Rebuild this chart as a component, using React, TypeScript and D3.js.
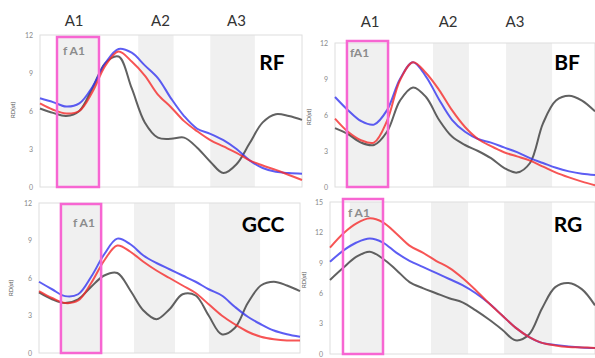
import React, { useEffect, useRef } from 'react'
import * as d3 from 'd3'

// position along the tract (0-100), shared by all panels
const positions = d3.range(0, 101, 5)

// RF
const rfBlack = [6.2, 5.85, 5.6, 6.0, 7.8, 9.8, 10.3, 7.8, 5.1, 3.9, 3.8, 3.9, 3.1, 2.0, 1.1, 1.8, 3.45, 5.1, 5.75, 5.6, 5.3]
const rfRed = [6.6, 6.1, 5.8, 6.0, 7.5, 9.6, 10.7, 9.9, 8.8, 7.3, 6.3, 5.2, 4.4, 3.7, 3.2, 2.7, 2.1, 1.7, 1.35, 0.95, 0.55]
const rfBlue = [7.0, 6.7, 6.35, 6.6, 7.9, 9.8, 10.9, 10.6, 9.6, 8.6, 7.0, 5.6, 4.6, 4.2, 3.7, 3.0, 2.1, 1.5, 1.2, 1.1, 1.05]

// BF
const bfBlack = [4.9, 4.4, 3.7, 3.5, 4.6, 7.2, 8.3, 7.5, 5.6, 4.2, 3.5, 3.0, 2.4, 1.6, 1.2, 2.0, 5.3, 7.2, 7.6, 7.2, 6.3]
const bfRed = [5.7, 4.6, 3.9, 3.7, 5.5, 8.9, 10.4, 9.5, 8.1, 6.4, 5.0, 4.0, 3.4, 2.9, 2.55, 2.2, 1.7, 1.2, 0.8, 0.45, 0.15]
const bfBlue = [7.5, 6.4, 5.5, 5.2, 6.4, 9.0, 10.4, 9.2, 7.3, 5.6, 4.6, 4.0, 3.7, 3.3, 2.9, 2.4, 2.0, 1.6, 1.3, 1.1, 1.0]

// GCC
const gccBlack = [4.85, 4.3, 4.0, 4.3, 5.3, 6.2, 6.4, 5.0, 3.4, 2.7, 3.5, 4.7, 4.6, 3.0, 1.5, 2.0, 4.0, 5.4, 5.7, 5.4, 4.95]
const gccRed = [4.95, 4.4, 4.0, 4.2, 5.6, 7.4, 8.6, 8.1, 7.3, 6.6, 6.0, 5.4, 4.8, 3.9, 3.0, 2.3, 1.7, 1.3, 1.1, 1.0, 1.0]
const gccBlue = [5.7, 5.1, 4.55, 4.7, 6.1, 7.9, 9.15, 8.7, 7.8, 7.2, 6.7, 6.2, 5.7, 5.1, 4.6, 3.7, 2.9, 2.3, 1.8, 1.5, 1.3]

// RG
const rgBlack = [7.3, 8.5, 9.6, 10.1, 9.4, 8.3, 7.1, 6.5, 6.0, 5.5, 5.1, 4.3, 3.4, 2.4, 1.35, 1.9, 4.5, 6.6, 7.0, 6.4, 4.8]
const rgRed = [10.5, 11.9, 12.9, 13.4, 13.0, 11.9, 10.7, 10.0, 9.2, 8.5, 7.5, 6.3, 5.0, 3.8, 2.6, 1.7, 1.1, 0.85, 0.7, 0.65, 0.6]
const rgBlue = [9.1, 10.2, 11.0, 11.4, 11.0, 10.0, 9.2, 8.6, 8.0, 7.4, 6.8, 6.0, 5.0, 3.8, 2.6, 1.7, 1.1, 0.9, 0.75, 0.65, 0.6]

const yTicksSmall = [0, 3, 6, 9, 12]
const yTicksLarge = [0, 3, 6, 9, 12, 15]
const segmentLabels = ['A1', 'A2', 'A3']

const panels = [
    { title: 'RF', yMax: 12, ticks: yTicksSmall, black: rfBlack, red: rfRed, blue: rfBlue, bands: [[7, 22], [37.5, 51], [65, 82]], box: [6.5, 22.5], boxLabel: 'f A1', labelAt: [13, 46, 75] },
    { title: 'BF', yMax: 12, ticks: yTicksSmall, black: bfBlack, red: bfRed, blue: bfBlue, bands: [[5, 20], [37.7, 51.5], [65.8, 83.5]], box: [4.6, 20.4], boxLabel: 'fA1', labelAt: [13.5, 43.5, 69.2] },
    { title: 'GCC', yMax: 12, ticks: yTicksSmall, black: gccBlack, red: gccRed, blue: gccBlue, bands: [[8.8, 23.4], [36.4, 52.1], [65.1, 84.7]], box: [8.4, 23.8], boxLabel: 'f A1', labelAt: null },
    { title: 'RG', yMax: 15, ticks: yTicksLarge, black: rgBlack, red: rgRed, blue: rgBlue, bands: [[7.5, 19.6], [38.1, 52.1], [65.7, 83.8]], box: [4.9, 20], boxLabel: 'f A1', labelAt: null },
]

// pixel layout of each panel
const layouts = [
    { left: 40, right: 302, top: 35, bottom: 187, boxTop: 37, titleX: 272, titleY: 70, fa1X: 63, fa1Y: 55, ylabX: 15, ylabY: 110, segY: 26 },
    { left: 335, right: 595, top: 43, bottom: 187, boxTop: 41, titleX: 567, titleY: 70, fa1X: 350, fa1Y: 57, ylabX: 311, ylabY: 117, segY: 27 },
    { left: 39, right: 300, top: 203, bottom: 353, boxTop: 204, titleX: 263, titleY: 232, fa1X: 73, fa1Y: 227, ylabX: 13, ylabY: 288, segY: 0 },
    { left: 330, right: 595, top: 202, bottom: 354, boxTop: 199, titleX: 568, titleY: 232, fa1X: 348, fa1Y: 217, ylabX: 306, ylabY: 280, segY: 0 },
]

const FONT = 'Lato, "Open Sans", sans-serif'

const App = () => {
    const ref = useRef<SVGSVGElement>(null)

    useEffect(() => {
        const svg = d3.select(ref.current)
        svg.selectAll('*').remove()

        panels.forEach((p, i) => {
            const l = layouts[i]
            const g = svg.append('g')

            const x = d3.scaleLinear().domain([0, 100]).range([l.left, l.right])
            const y = d3.scaleLinear().domain([0, p.yMax]).range([l.bottom, l.top])

            // gray segments
            g.selectAll('rect.band')
                .data(p.bands)
                .enter()
                .append('rect')
                .attr('x', d => x(d[0]))
                .attr('width', d => x(d[1]) - x(d[0]))
                .attr('y', l.top)
                .attr('height', l.bottom - l.top)
                .attr('fill', '#f0f0f0')

            // frame
            g.append('rect')
                .attr('x', l.left)
                .attr('y', l.top)
                .attr('width', l.right - l.left)
                .attr('height', l.bottom - l.top)
                .attr('fill', 'none')
                .attr('stroke', '#dedede')
                .attr('stroke-width', 1)

            // y axis
            const axis = d3.axisLeft(y).tickValues(p.ticks).tickSize(0).tickPadding(7)
            const ag = g.append('g').attr('transform', `translate(${l.left},0)`).call(axis)
            ag.select('.domain').remove()
            ag.selectAll('text').attr('fill', '#8a8a8a').style('font-size', '7px').style('font-family', FONT)

            g.append('text')
                .attr('transform', `translate(${l.ylabX},${l.ylabY}) rotate(-90)`)
                .attr('text-anchor', 'middle')
                .attr('fill', '#555')
                .style('font-size', '6px')
                .style('font-family', FONT)
                .text('RD(st)')

            // lines
            const line = d3
                .line<number>()
                .x((_, j) => x(positions[j]))
                .y(d => y(d))
                .curve(d3.curveCatmullRom.alpha(0.5))

            const series = [
                { values: p.black, color: '#3a3a3a' },
                { values: p.blue, color: '#3434f0' },
                { values: p.red, color: '#f52a2a' },
            ]
            g.selectAll('path.series')
                .data(series)
                .enter()
                .append('path')
                .attr('d', d => line(d.values))
                .attr('fill', 'none')
                .attr('stroke', d => d.color)
                .attr('stroke-width', 2)
                .attr('stroke-opacity', 0.8)

            // highlighted fA1 box
            g.append('rect')
                .attr('x', x(p.box[0]))
                .attr('y', l.boxTop)
                .attr('width', x(p.box[1]) - x(p.box[0]))
                .attr('height', l.bottom - l.boxTop)
                .attr('fill', 'none')
                .attr('stroke', '#f766d2')
                .attr('stroke-width', 2.5)

            g.append('text')
                .attr('x', l.fa1X)
                .attr('y', l.fa1Y)
                .attr('fill', '#8c8c8c')
                .style('font-size', '12px')
                .style('font-weight', 'bold')
                .style('font-family', FONT)
                .text(p.boxLabel)

            g.append('text')
                .attr('x', l.titleX)
                .attr('y', l.titleY)
                .attr('text-anchor', 'middle')
                .attr('fill', '#000')
                .style('font-size', '21px')
                .style('font-weight', 'bold')
                .style('font-family', FONT)
                .text(p.title)

            if (p.labelAt) {
                g.selectAll('text.seg')
                    .data(segmentLabels)
                    .enter()
                    .append('text')
                    .attr('x', (_, j) => x(p.labelAt[j]))
                    .attr('y', l.segY)
                    .attr('text-anchor', 'middle')
                    .attr('fill', '#333')
                    .style('font-size', '15px')
                    .style('font-family', FONT)
                    .text(d => d)
            }
        })
    }, [])

    return (
        <svg
            ref={ref}
            width={595}
            height={358}
            style={{ position: 'absolute', left: 0, top: 0, background: '#fff' }}
        />
    )
}

export default App
